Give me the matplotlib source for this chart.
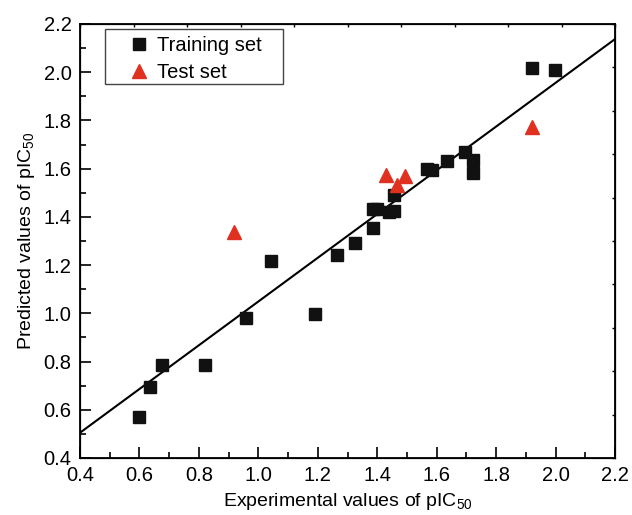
import numpy as np
import matplotlib
matplotlib.use("Agg")
from matplotlib import pyplot as plt
from matplotlib.patches import Rectangle

plt.rcParams["font.family"] = ["Liberation Sans", "DejaVu Sans"]
plt.rcParams["mathtext.fontset"] = "custom"
plt.rcParams["mathtext.rm"] = "Liberation Sans"
plt.rcParams["mathtext.it"] = "Liberation Sans"

# training set (experimental, predicted)
train_exp = [0.600, 0.636, 0.677, 0.822, 0.958, 1.044, 1.192, 1.265, 1.326,
             1.385, 1.385, 1.398, 1.441, 1.455, 1.455, 1.568, 1.584, 1.636,
             1.697, 1.721, 1.721, 1.920, 1.999]
train_pred = [0.571, 0.696, 0.784, 0.784, 0.979, 1.217, 0.997, 1.242, 1.293,
              1.354, 1.433, 1.433, 1.420, 1.423, 1.491, 1.599, 1.594, 1.631,
              1.668, 1.635, 1.581, 2.016, 2.009]

# test set
test_exp = [0.919, 1.431, 1.467, 1.494, 1.920]
test_pred = [1.336, 1.575, 1.531, 1.570, 1.774]

# fitted line
fit_slope = 0.907
fit_intercept = 0.142

fig = plt.figure(figsize=(6.32, 5.15), dpi=100)
ax = fig.add_axes([0.1266, 0.1107, 0.8465, 0.8427])

xx = np.array([0.4, 2.2])
ax.plot(xx, fit_slope * xx + fit_intercept, color="black", lw=1.5, zorder=2)
ax.plot(train_exp, train_pred, "s", color="#111111", ms=8, ls="none",
        label="Training set", zorder=3)
ax.plot(test_exp, test_pred, "^", color="#e03020", ms=9.5, ls="none",
        label="Test set", zorder=3)

ax.set_xlim(0.4, 2.2)
ax.set_ylim(0.4, 2.2)
ax.set_xticks(np.arange(0.4, 2.21, 0.2))
ax.set_yticks(np.arange(0.4, 2.21, 0.2))
ax.set_xticks(np.arange(0.5, 2.2, 0.2), minor=True)
ax.set_yticks(np.arange(0.5, 2.2, 0.2), minor=True)
ax.xaxis.set_major_formatter(matplotlib.ticker.FormatStrFormatter("%.1f"))
ax.yaxis.set_major_formatter(matplotlib.ticker.FormatStrFormatter("%.1f"))
ax.tick_params(which="major", direction="in", length=8, width=1.2,
               labelsize=14.5, pad=6, top=False, right=False)
ax.tick_params(which="minor", direction="in", length=4, width=1.2,
               top=False, right=False)
for s in ax.spines.values():
    s.set_linewidth(1.3)

# top / right axes with 10 equal divisions, no labels
axt = ax.twiny()
axt.set_xlim(0, 1)
axt.set_xticks(np.linspace(0, 1, 11))
axt.tick_params(axis="x", direction="in", length=2, width=1, labeltop=False)
axr = ax.twinx()
axr.set_ylim(0, 1)
axr.set_yticks(np.linspace(0, 1, 11))
axr.tick_params(axis="y", direction="in", length=2, width=1, labelright=False)

ax.set_xlabel(r"Experimental values of pIC$_{50}$", fontsize=14, labelpad=4)
ax.set_ylabel(r"Predicted values of pIC$_{50}$", fontsize=14, labelpad=5)

# legend frame drawn separately to get the wide padding of the original
ax.add_patch(Rectangle((0.0467, 0.8618), 0.3327, 0.1267, transform=ax.transAxes,
                       fill=False, edgecolor="#444444", lw=1.0, zorder=4))
leg = ax.legend(loc="upper left", bbox_to_anchor=(0.0916, 0.972), fontsize=14.5,
                frameon=False, borderaxespad=0, borderpad=0,
                handletextpad=0.4, labelspacing=0.4, handlelength=1.0)

fig.savefig("out.png", dpi=100)
